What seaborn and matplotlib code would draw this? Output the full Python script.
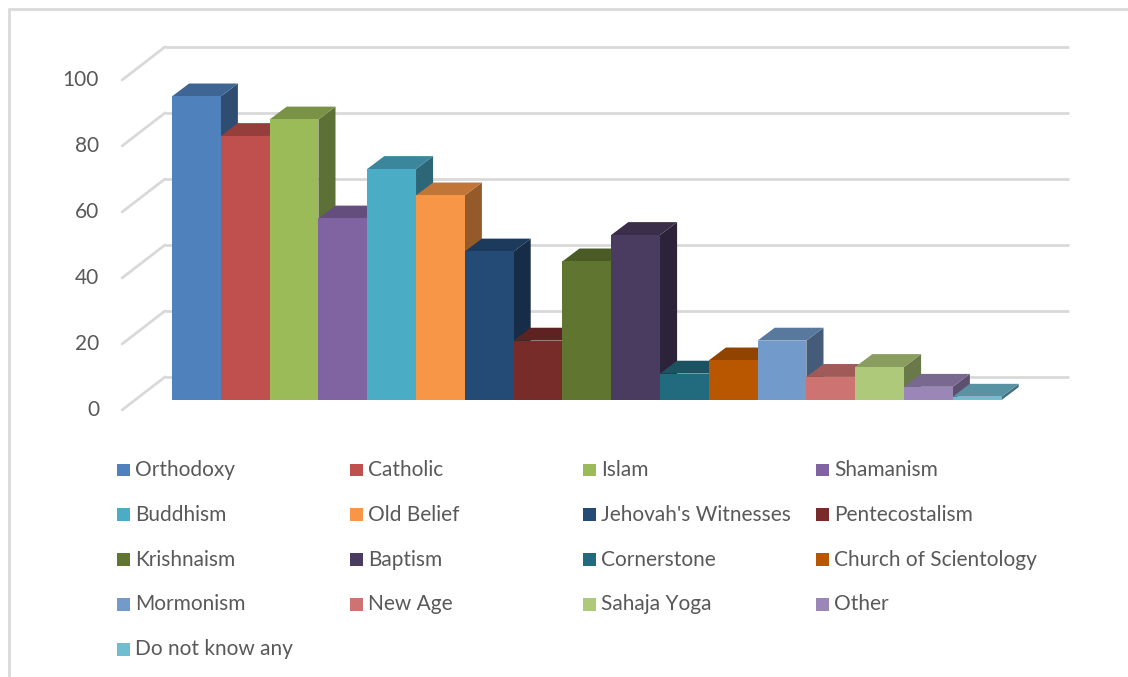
import matplotlib
matplotlib.use("Agg")
import matplotlib.pyplot as plt
from matplotlib.patches import Polygon, Rectangle
from matplotlib.lines import Line2D
from matplotlib.colors import to_rgb
import seaborn as sns

# Awareness of religious movements (%)
religions = ["Orthodoxy", "Catholic", "Islam", "Shamanism", "Buddhism", "Old Belief",
             "Jehovah's Witnesses", "Pentecostalism", "Krishnaism", "Baptism", "Cornerstone",
             "Church of Scientology", "Mormonism", "New Age", "Sahaja Yoga", "Other",
             "Do not know any"]
shares = [92, 80, 85, 55, 70, 62, 45, 18, 42, 50, 8, 12, 18, 7, 10, 4, 1]
colors = ["#4F81BD", "#C0504D", "#9BBB59", "#8064A2", "#4BACC6", "#F79646",
          "#244A76", "#772C2A", "#5F7530", "#4A3B60", "#226A7D", "#B85700",
          "#729ACA", "#CD7371", "#AFC97A", "#9B86B8", "#6FBDD1"]
y_ticks = [0, 20, 40, 60, 80, 100]

sns.set_theme(style="white")
plt.rcParams["font.family"] = ["Lato", "DejaVu Sans"]
TEXT = "#595959"
GRID = "#D9D9D9"

W, H = 1128, 677
fig = plt.figure(figsize=(W / 100, H / 100), dpi=100)
ax = fig.add_axes([0, 0, 1, 1])

sns.barplot(x=religions, y=shares, hue=religions, order=religions, hue_order=religions,
            palette=colors, width=1.0, saturation=1, linewidth=0, legend=False, ax=ax)

# oblique projection: depth shifts to the upper right
DX, DY = 0.35, 3.9          # bar depth
WX, WY = 0.615, 7.0         # back wall offset from the bar plane
FX, FY = -0.266, -3.03      # front edge of the floor
x_left, x_right = -1.258, 17.258

ax.set_xlim(-4.025, 19.09)
ax.set_ylim(-83.94, 121.21)
ax.axis("off")

# back wall gridlines, side wall diagonals and value labels
for v in y_ticks:
    ax.plot([x_left + WX, x_right + WX], [v + WY, v + WY], color=GRID, lw=2,
            zorder=0, solid_capstyle="butt")
    ax.plot([x_left + FX, x_left + WX], [v + FY, v + WY], color=GRID, lw=2, zorder=0)
    ax.text(x_left + FX - 0.47, v + FY, f"{v}", ha="right", va="center",
            fontsize=15, color=TEXT)


def shade(c, f):
    r, g, b = to_rgb(c)
    return (r * f, g * f, b * f)


bars = sorted(ax.patches, key=lambda p: p.get_x())
for i, p in enumerate(bars):
    x0, w, h = p.get_x(), p.get_width(), p.get_height()
    c = p.get_facecolor()
    z = 3 + 3 * i
    side = Polygon([(x0 + w, 0), (x0 + w + DX, DY), (x0 + w + DX, h + DY), (x0 + w, h)],
                   closed=True, facecolor=shade(c, 0.6), edgecolor="none", zorder=z)
    top = Polygon([(x0, h), (x0 + DX, h + DY), (x0 + w + DX, h + DY), (x0 + w, h)],
                  closed=True, facecolor=shade(c, 0.78), edgecolor="none", zorder=z + 1)
    ax.add_patch(side)
    ax.add_patch(top)
    p.set_zorder(z + 2)

# legend laid out row by row in four columns
for idx, (name, col) in enumerate(zip(religions, colors)):
    r, k = divmod(idx, 4)
    sx = 117 + 233 * k
    cy = 470 + 44.8 * r
    fig.add_artist(Rectangle((sx / W, 1 - (cy + 6.3) / H), 12.6 / W, 12.6 / H,
                             transform=fig.transFigure, facecolor=col, edgecolor="none"))
    fig.text((sx + 18) / W, 1 - cy / H, name, ha="left", va="center",
             fontsize=15, color=TEXT)

# chart frame
fig.add_artist(Line2D([9 / W, 1], [1 - 9 / H, 1 - 9 / H], transform=fig.transFigure,
                      color=GRID, lw=2))
fig.add_artist(Line2D([9 / W, 9 / W], [0, 1 - 9 / H], transform=fig.transFigure,
                      color=GRID, lw=2))

fig.savefig("out.png", dpi=100, facecolor="white")
